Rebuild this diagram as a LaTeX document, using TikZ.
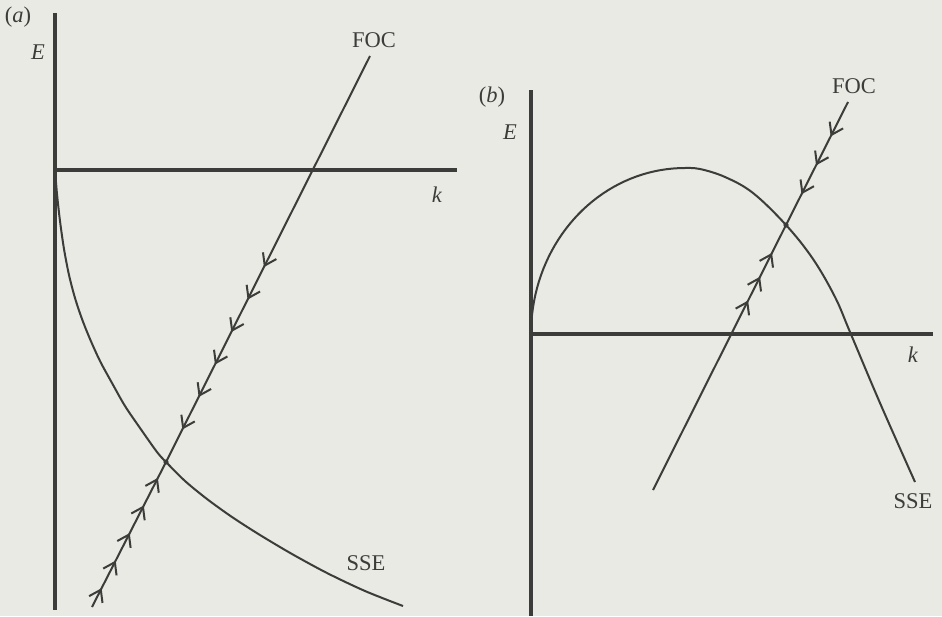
\documentclass[tikz,border=0pt]{standalone}
\usepackage{fontspec}
\setmainfont{Liberation Serif}
\usepackage{xcolor}
\usepackage{tikz}
\usetikzlibrary{arrows.meta,decorations.markings}
\definecolor{PageGray}{HTML}{E9EAE4}
\definecolor{InkGray}{HTML}{3C3C3A}
\tikzset{
  axis/.style={draw=InkGray, line width=4.5pt},
  curve/.style={draw=InkGray, line width=2pt},
  lbl/.style={text=InkGray, inner sep=0pt, font=\fontsize{22.5}{27}\selectfont},
  barbs/.style args={#1:#2:#3}{postaction={decorate},
    decoration={markings, mark=between positions #1 and #2 step #3 with
      {\arrow{Straight Barb[length=11pt,width=15pt]}}}},
  crossdot/.style={fill=InkGray}
}

\begin{document}
\begin{tikzpicture}[x=1pt, y=-1pt]
  \useasboundingbox (0,0) rectangle (942,616);
  \fill[PageGray] (0,0) rectangle (942,616);

  % panel (a)
  \coordinate (oa) at (55,170);
  \coordinate (ea) at (55,13);
  \coordinate (ba) at (55,610);
  \coordinate (ka) at (457,170);
  \coordinate (fta) at (370,56);
  \coordinate (fba) at (92,607);
  \coordinate (xa) at (166,462);
  \node[lbl] (taga) at (18,17) {(\textit{a})};
  \node[lbl] (Ea) at (38,52) {\textit{E}};
  \node[lbl] (kla) at (437,195) {\textit{k}};
  \node[lbl] (foca) at (374,40) {FOC};
  \node[lbl] (ssea) at (366,563) {SSE};
  \draw[axis] (ea) -- (ba);
  \draw[axis] (oa) -- (ka);
  \draw[curve] plot[smooth, tension=0.5] coordinates {(55,170) (57,194) (60,221)
    (64,249) (69,275) (75,298) (82,319) (90,339) (100,361) (112,383) (125,406)
    (140,428) (157,452) (166,462) (185,481) (207,499) (232,517) (260,535)
    (292,554) (327,573) (365,591) (403,606)};
  \draw[curve, barbs=0.52:0.93:0.08] (fta) -- (xa);
  \draw[curve, barbs=0.13:0.9:0.19] (fba) -- (xa);
  \fill[crossdot] (xa) circle (2.6pt);

  % panel (b)
  \coordinate (ob) at (531,334);
  \coordinate (eb) at (531,90);
  \coordinate (bb) at (531,616);
  \coordinate (kb) at (933,334);
  \coordinate (ftb) at (848,102);
  \coordinate (fbb) at (653,490);
  \coordinate (xb) at (786,225);
  \node[lbl] (tagb) at (492,97) {(\textit{b})};
  \node[lbl] (Eb) at (510,132) {\textit{E}};
  \node[lbl] (klb) at (913,355) {\textit{k}};
  \node[lbl] (focb) at (854,86) {FOC};
  \node[lbl] (sseb) at (913,501) {SSE};
  \draw[axis] (eb) -- (bb);
  \draw[axis] (ob) -- (kb);
  \draw[curve] plot[domain=180:270, samples=40] ({685+154*cos(\x)}, {334+166*sin(\x)})
    plot[smooth, tension=0.6] coordinates {(685,168) (700,169) (725,177) (753,193)
    (786,225) (813,259) (835,297) (850,332) (880,403) (915,482)};
  \draw[curve, barbs=0.28:0.76:0.235] (ftb) -- (xb);
  \draw[curve, barbs=0.715:0.9:0.09] (fbb) -- (xb);
  \fill[crossdot] (xb) circle (2.6pt);
\end{tikzpicture}
\end{document}
